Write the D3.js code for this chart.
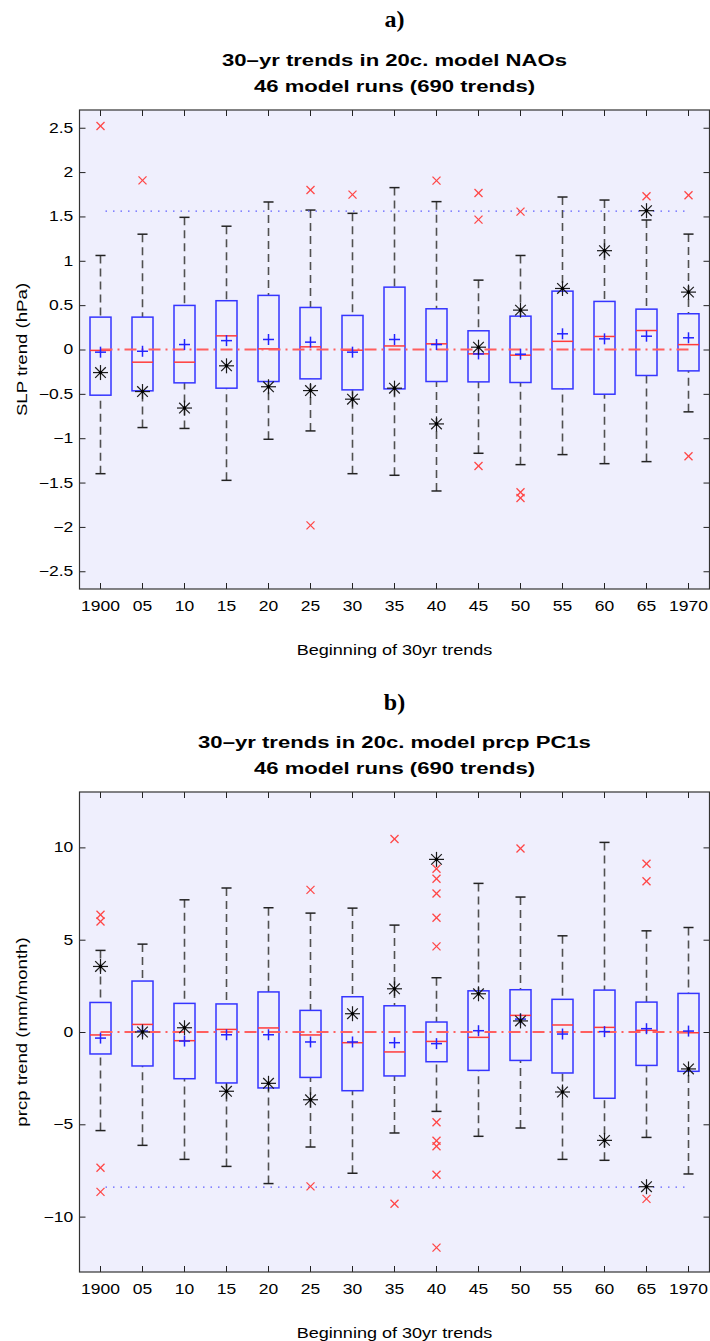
<!DOCTYPE html>
<html><head><meta charset="utf-8">
<script src="https://cdn.jsdelivr.net/npm/d3@7"></script>
<style>body{margin:0;background:#fff}svg{display:block}</style>
</head><body>
<script>
// ---------- DATA ----------
const categories = ["1900","05","10","15","20","25","30","35","40","45","50","55","60","65","1970"];

// Panel a) NAO SLP trends (hPa)
const naoQ1   = [-0.515,-0.466,-0.376,-0.436,-0.361,-0.331,-0.455,-0.444,-0.361,-0.365,-0.372,-0.444,-0.504,-0.293,-0.241];
const naoQ3   = [0.365,0.365,0.497,0.55,0.61,0.474,0.384,0.703,0.459,0.211,0.376,0.658,0.542,0.455,0.403];
const naoMed  = [-0.01,-0.143,-0.143,0.154,0.007,0.03,-0.008,0.04,0.064,-0.049,-0.064,0.092,0.147,0.214,0.055];
const naoMean = [-0.03,-0.02,0.056,0.10,0.113,0.083,-0.03,0.113,0.056,-0.05,-0.053,0.177,0.12,0.15,0.132];
const naoLo   = [-1.40,-0.88,-0.89,-1.475,-1.012,-0.918,-1.40,-1.418,-1.595,-1.17,-1.298,-1.185,-1.287,-1.264,-0.703];
const naoHi   = [1.06,1.30,1.49,1.39,1.663,1.572,1.535,1.825,1.667,0.782,1.06,1.719,1.685,1.46,1.301];
const naoObs  = [-0.26,-0.474,-0.66,-0.184,-0.42,-0.463,-0.56,-0.436,-0.839,0.026,0.444,0.688,1.114,1.565,0.647];
const naoOutliers = [[2.52],[1.907],[],[],[],[1.798,-1.983],[1.746],[],[1.904],[1.764,1.464,-1.313],[1.554,-1.61,-1.674],[],[],[1.727],[1.738,-1.204]];
const naoThreshold = 1.56;
const naoTicks = [-2.5,-2,-1.5,-1,-0.5,0,0.5,1,1.5,2,2.5];
const naoDomain = [-2.7, 2.7];

// Panel b) precipitation PC1 trends (mm/month)
const prQ1   = [-1.19,-1.84,-2.53,-2.76,-3.03,-2.46,-3.18,-2.38,-1.61,-2.08,-1.54,-2.22,-3.59,-1.81,-2.13];
const prQ3   = [1.60,2.76,1.55,1.52,2.17,1.17,1.91,1.42,0.54,2.23,2.29,1.77,2.27,1.62,2.09];
const prMed  = [-0.16,0.41,-0.47,0.14,0.22,-0.16,-0.58,-1.08,-0.51,-0.29,0.90,0.38,0.25,0.09,-0.04];
const prMean = [-0.33,0.05,-0.49,-0.15,-0.15,-0.54,-0.54,-0.58,-0.63,0.07,0.70,-0.11,0.02,0.18,0.05];
const prLo   = [-5.34,-6.14,-6.90,-7.28,-8.21,-6.23,-7.65,-5.47,-4.30,-5.65,-5.20,-6.90,-6.95,-5.71,-7.69];
const prHi   = [4.42,4.76,7.16,7.80,6.73,6.44,6.71,5.79,2.94,8.05,7.31,5.21,10.27,5.48,5.66];
const prObs  = [3.55,0.0,0.23,-3.21,-2.78,-3.67,0.99,2.34,9.35,2.07,0.60,-3.25,-5.87,-8.38,-2.00];
const prOutliers = [[6.35,5.99,-7.35,-8.66],[],[],[],[],[7.70,-8.36],[],[10.45,-9.30],[8.84,8.30,7.50,6.19,4.64,-4.89,-5.89,-6.19,-7.73,-11.68],[],[9.94],[],[],[9.11,8.17,-9.04],[]];
const prThreshold = -8.4;
const prTicks = [-10,-5,0,5,10];
const prDomain = [-13, 13];

// ---------- DRAW ----------
const W = 710, H = 1341;
const svg = d3.select("body").append("svg").attr("width", W).attr("height", H);
const SANS = "'Liberation Sans', Arial, Helvetica, sans-serif";
const SERIF = "'Liberation Serif', 'Times New Roman', serif";

function stext(g, x, y, str, o) {
  o = o || {};
  return g.append("text")
    .attr("transform", `translate(${x},${y})${o.rotate ? " rotate(-90)" : ""} scale(${o.sx || 1},1)`)
    .attr("text-anchor", o.anchor || "middle")
    .attr("font-family", o.family || SANS)
    .attr("font-size", o.size || 14)
    .attr("font-weight", o.weight || "normal")
    .attr("fill", "#000")
    .text(str);
}

const fmt = d => (d < 0 ? "\u2212" : "") + Math.abs(d);

function panel(cfg) {
  const g = svg.append("g");
  const x = d3.scaleBand().domain(categories).range([79.5, 709.5]).padding(0);
  const y = d3.scaleLinear().domain(cfg.domain).range([cfg.bottom, cfg.top]);
  const bw = x.bandwidth();
  const cx = c => x(c) + bw / 2;
  const boxW = bw * 0.5, capW = bw * 0.24;

  // labels / titles
  stext(g, 394.5, cfg.letterY, cfg.letter, {family: SERIF, size: 24, weight: "bold"});
  stext(g, 394.5, cfg.top - 44, cfg.title1, {size: 17, weight: "bold", sx: 1.3});
  stext(g, 394.5, cfg.top - 18, cfg.title2, {size: 17, weight: "bold", sx: 1.3});

  // background
  g.append("rect").attr("x", 79.5).attr("y", cfg.top).attr("width", 630).attr("height", cfg.bottom - cfg.top)
    .attr("fill", "#efeffd");

  const rows = categories.map((c, i) => ({c, i, q1: cfg.q1[i], q3: cfg.q3[i], med: cfg.med[i], mean: cfg.mean[i],
    lo: cfg.lo[i], hi: cfg.hi[i], obs: cfg.obs[i], out: cfg.out[i]}));

  // whiskers (dashed)
  const wg = g.append("g").attr("stroke", "#505050").attr("stroke-width", 1.6).attr("stroke-dasharray", "8,5");
  wg.selectAll(".wu").data(rows).join("line")
    .attr("x1", d => cx(d.c)).attr("x2", d => cx(d.c))
    .attr("y1", d => y(d.hi)).attr("y2", d => y(d.q3));
  wg.selectAll(".wl").data(rows).join("line").attr("class", "wl")
    .attr("x1", d => cx(d.c)).attr("x2", d => cx(d.c))
    .attr("y1", d => y(d.lo)).attr("y2", d => y(d.q1));
  // caps
  const cg = g.append("g").attr("stroke", "#222").attr("stroke-width", 1.5);
  cg.selectAll(".cu").data(rows).join("line")
    .attr("x1", d => cx(d.c) - capW / 2).attr("x2", d => cx(d.c) + capW / 2)
    .attr("y1", d => y(d.hi)).attr("y2", d => y(d.hi));
  cg.selectAll(".cl").data(rows).join("line").attr("class", "cl")
    .attr("x1", d => cx(d.c) - capW / 2).attr("x2", d => cx(d.c) + capW / 2)
    .attr("y1", d => y(d.lo)).attr("y2", d => y(d.lo));

  // boxes
  g.append("g").selectAll("rect").data(rows).join("rect")
    .attr("x", d => cx(d.c) - boxW / 2).attr("width", boxW)
    .attr("y", d => y(d.q3)).attr("height", d => y(d.q1) - y(d.q3))
    .attr("fill", "none").attr("stroke", "#3535ff").attr("stroke-width", 1.5);
  // medians
  g.append("g").selectAll("line").data(rows).join("line")
    .attr("x1", d => cx(d.c) - boxW / 2).attr("x2", d => cx(d.c) + boxW / 2)
    .attr("y1", d => y(d.med)).attr("y2", d => y(d.med))
    .attr("stroke", "#ff3b3b").attr("stroke-width", 1.5);

  // zero dash-dot line
  g.append("line").attr("x1", cx(categories[0])).attr("x2", cx(categories[categories.length - 1]))
    .attr("y1", y(0)).attr("y2", y(0))
    .attr("stroke", "#ff5f5f").attr("stroke-width", 1.8).attr("stroke-dasharray", "12,5,2,5");
  // threshold dotted line
  g.append("line").attr("x1", cx(categories[0]) + 5).attr("x2", cx(categories[categories.length - 1]))
    .attr("y1", y(cfg.thr)).attr("y2", y(cfg.thr))
    .attr("stroke", "#6060ff").attr("stroke-width", 1.2).attr("stroke-dasharray", "1.5,6");

  // outliers (red x)
  const outs = rows.flatMap(d => d.out.map(v => ({c: d.c, v})));
  const og = g.append("g").attr("stroke", "#ff4545").attr("stroke-width", 1.3);
  outs.forEach(o => {
    const px = cx(o.c), py = y(o.v), s = 4;
    og.append("line").attr("x1", px - s).attr("x2", px + s).attr("y1", py - s).attr("y2", py + s);
    og.append("line").attr("x1", px - s).attr("x2", px + s).attr("y1", py + s).attr("y2", py - s);
  });

  // means (blue +)
  const mg = g.append("g").attr("stroke", "#2323ff").attr("stroke-width", 1.5);
  rows.forEach(d => {
    const px = cx(d.c), py = y(d.mean), s = 5.5;
    mg.append("line").attr("x1", px - s).attr("x2", px + s).attr("y1", py).attr("y2", py);
    mg.append("line").attr("x1", px).attr("x2", px).attr("y1", py - s).attr("y2", py + s);
  });

  // observed (black asterisk)
  const ag = g.append("g").attr("stroke", "#1a1a1a").attr("stroke-width", 1.2);
  rows.forEach(d => {
    const px = cx(d.c), py = y(d.obs), s = 7.5, t = 5.3;
    ag.append("line").attr("x1", px - s).attr("x2", px + s).attr("y1", py).attr("y2", py);
    ag.append("line").attr("x1", px).attr("x2", px).attr("y1", py - s).attr("y2", py + s);
    ag.append("line").attr("x1", px - t).attr("x2", px + t).attr("y1", py - t).attr("y2", py + t);
    ag.append("line").attr("x1", px - t).attr("x2", px + t).attr("y1", py + t).attr("y2", py - t);
    g.append("circle").attr("cx", px).attr("cy", py).attr("r", 1.8).attr("fill", "#000");
  });

  // axes
  const styleAxis = (ax, labels) => {
    ax.select(".domain").remove();
    ax.selectAll(".tick line").attr("stroke", "#222").attr("stroke-width", 1);
    if (labels) {
      ax.selectAll(".tick text").attr("font-family", SANS).attr("font-size", 14).attr("fill", "#000");
    }
  };
  const axL = g.append("g").attr("transform", "translate(79.5,0)")
    .call(d3.axisLeft(y).tickValues(cfg.ticks).tickFormat(fmt).tickSizeInner(-6).tickSizeOuter(0).tickPadding(5));
  styleAxis(axL, true);
  axL.selectAll(".tick text").attr("transform", "scale(1.25,1)");
  const axR = g.append("g").attr("transform", "translate(709.5,0)")
    .call(d3.axisRight(y).tickValues(cfg.ticks).tickFormat("").tickSizeInner(-6).tickSizeOuter(0));
  styleAxis(axR, false);
  const axB = g.append("g").attr("transform", `translate(0,${cfg.bottom})`)
    .call(d3.axisBottom(x).tickSizeInner(-6).tickSizeOuter(0).tickPadding(12));
  styleAxis(axB, true);
  axB.selectAll(".tick text").attr("transform", "scale(1.25,1)");
  const axT = g.append("g").attr("transform", `translate(0,${cfg.top})`)
    .call(d3.axisTop(x).tickFormat("").tickSizeInner(-6).tickSizeOuter(0));
  styleAxis(axT, false);

  // frame
  g.append("rect").attr("x", 79.5).attr("y", cfg.top).attr("width", 630).attr("height", cfg.bottom - cfg.top)
    .attr("fill", "none").attr("stroke", "#333").attr("stroke-width", 1.2);

  // axis titles
  stext(g, 394.5, cfg.bottom + 66, "Beginning of 30yr trends", {size: 14, sx: 1.29});
  stext(g, 27, (cfg.top + cfg.bottom) / 2, cfg.ylabel, {size: 14, sx: 1.33, rotate: true});
}

panel({
  top: 110, bottom: 589, domain: naoDomain, ticks: naoTicks,
  q1: naoQ1, q3: naoQ3, med: naoMed, mean: naoMean, lo: naoLo, hi: naoHi, obs: naoObs, out: naoOutliers, thr: naoThreshold,
  letter: "a)", letterY: 27,
  title1: "30\u2013yr trends in 20c. model NAOs", title2: "46 model runs (690 trends)",
  ylabel: "SLP trend (hPa)"
});
panel({
  top: 792, bottom: 1272, domain: prDomain, ticks: prTicks,
  q1: prQ1, q3: prQ3, med: prMed, mean: prMean, lo: prLo, hi: prHi, obs: prObs, out: prOutliers, thr: prThreshold,
  letter: "b)", letterY: 710,
  title1: "30\u2013yr trends in 20c. model prcp PC1s", title2: "46 model runs (690 trends)",
  ylabel: "prcp trend (mm/month)"
});
</script>
</body></html>
